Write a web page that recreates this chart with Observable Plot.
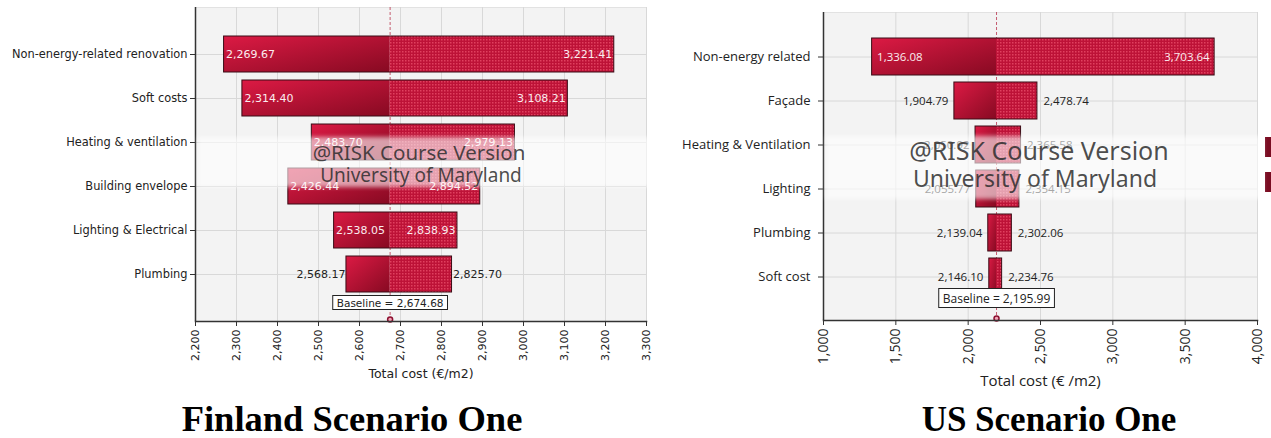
<!DOCTYPE html>
<html>
<head>
<meta charset="utf-8">
<script src="https://cdn.jsdelivr.net/npm/d3@7"></script>
<script src="https://cdn.jsdelivr.net/npm/@observablehq/plot@0.6"></script>
<style>
  body { margin: 0; background: #fff; }
  #page { position: relative; width: 1271px; height: 438px; overflow: hidden; }
  .panel { position: absolute; top: 0; }
  .panel svg { overflow: visible; }
  .title { position: absolute; font-family: "Liberation Serif", serif; font-weight: bold;
           line-height: 0.9; white-space: nowrap; transform: translateX(-50%); color: #000; }
  .band { position: absolute; background: rgba(255,255,255,0.6); filter: blur(2px); }
  .mark { position: absolute; font-family: "Noto Sans", sans-serif; color: rgba(45,45,45,0.85);
          white-space: nowrap; transform: translate(-50%, -50%); line-height: 1; }
  .swatch { position: absolute; background: #7a0c22; }
</style>
</head>
<body>
<div id="page"></div>
<script>
// Finland, scenario one: low / high total cost per factor (€/m2)
const finlandFactors = ["Non-energy-related renovation", "Soft costs", "Heating & ventilation",
                        "Building envelope", "Lighting & Electrical", "Plumbing"];
const finlandLow  = [2269.67, 2314.40, 2483.70, 2426.44, 2538.05, 2568.17];
const finlandHigh = [3221.41, 3108.21, 2979.13, 2894.52, 2838.93, 2825.70];
const finlandBaseline = 2674.68;
const finlandTicks = [2200, 2300, 2400, 2500, 2600, 2700, 2800, 2900, 3000, 3100, 3200, 3300];

// US, scenario one
const usFactors = ["Non-energy related", "Façade", "Heating & Ventilation", "Lighting", "Plumbing", "Soft cost"];
const usLow  = [1336.08, 1904.79, 2050.92, 2055.77, 2139.04, 2146.10];
const usHigh = [3703.64, 2478.74, 2365.58, 2354.15, 2302.06, 2234.76];
const usBaseline = 2195.99;
const usTicks = [1000, 1500, 2000, 2500, 3000, 3500, 4000];

const fmt = d3.format(",.2f");
const tickFmt = d3.format(",");
const page = document.getElementById("page");

function tornado(o) {
  const rows = o.factors.map((factor, i) => ({factor, low: o.low[i], high: o.high[i]}));
  const plotW = o.width - o.marginLeft - o.marginRight;
  const px = v => Math.abs(v) / (o.domain[1] - o.domain[0]) * plotW;
  // values go inside the bar only when both halves are wide enough
  const fits = d => Math.min(px(o.baseline - d.low), px(d.high - o.baseline)) > o.minInside;
  const inside = rows.filter(fits), outside = rows.filter(d => !fits(d));
  const id = o.id;

  const svg = Plot.plot({
    width: o.width, height: o.height,
    marginLeft: o.marginLeft, marginRight: o.marginRight,
    marginTop: o.marginTop, marginBottom: o.marginBottom,
    style: {fontFamily: o.font, fontSize: o.valueSize + "px", color: "#222", background: "transparent"},
    x: {domain: o.domain},
    y: {domain: o.factors, paddingInner: o.padIn, paddingOuter: (1 + o.padIn) / 2},
    marks: [
      Plot.frame({fill: "#f3f3f3", stroke: "#e2e2e2"}),
      Plot.gridX(o.ticks, {stroke: "#d8d8d8", strokeOpacity: 1}),
      Plot.gridY({stroke: "#d8d8d8", strokeOpacity: 1}),
      Plot.ruleX([o.baseline], {stroke: "#b8334d", strokeDasharray: "3,2", strokeWidth: 0.8}),
      Plot.barX(rows, {y: "factor", x1: "low", x2: () => o.baseline, fill: `url(#${id}-solid)`}),
      Plot.barX(rows, {y: "factor", x1: () => o.baseline, x2: "high", fill: `url(#${id}-hatch)`}),
      Plot.barX(rows, {y: "factor", x1: "low", x2: "high", fill: "none", stroke: "#3a0c16", strokeWidth: 1}),
      Plot.text(inside, {x: "low", y: "factor", text: d => fmt(d.low), textAnchor: "start", dx: o.inDx, fill: "#fbecef"}),
      Plot.text(inside, {x: "high", y: "factor", text: d => fmt(d.high), textAnchor: "end", dx: -o.inDx, fill: "#fbecef"}),
      Plot.text(outside, {x: "low", y: "factor", text: d => fmt(d.low), textAnchor: "end", dx: -o.outDx, fill: "#222"}),
      Plot.text(outside, {x: "high", y: "factor", text: d => fmt(d.high), textAnchor: "start", dx: o.outDx, fill: "#222"}),
      Plot.text([o.baseline], {x: d => d, frameAnchor: "bottom", dy: -o.baseDy, text: d => `Baseline = ${fmt(d)}`,
                               fontSize: o.baseSize, fill: "#222"}),
      Plot.dot([o.baseline], {x: d => d, frameAnchor: "bottom", dy: -2, r: 2.5, fill: "#f3a5b8", stroke: "#8c1030"}),
      Plot.ruleX([o.domain[0]], {stroke: "#333", strokeWidth: 1.5}),
      Plot.frame({anchor: "bottom", stroke: "#333", strokeWidth: 1.5}),
      Plot.axisY({tickSize: 5, tickPadding: o.yPad, fontSize: o.catSize, label: null, stroke: "#333"}),
      Plot.axisX({ticks: o.ticks, tickFormat: tickFmt, tickRotate: -90, tickSize: 5, tickPadding: 3,
                  fontSize: o.tickSize, label: null, stroke: "#333"}),
      Plot.text([o.axisLabel], {frameAnchor: "bottom", dy: o.labelDy, text: d => d, fontSize: o.labelSize, fill: "#222"})
    ]
  });

  // fills for the two halves of each bar
  const defs = d3.select(svg).insert("defs", ":first-child");
  const grad = defs.append("linearGradient").attr("id", id + "-solid")
    .attr("x1", 0).attr("y1", 0).attr("x2", 1).attr("y2", 1);
  grad.append("stop").attr("offset", "0%").attr("stop-color", "#dc1a44");
  grad.append("stop").attr("offset", "100%").attr("stop-color", "#870a22");
  const pat = defs.append("pattern").attr("id", id + "-hatch")
    .attr("patternUnits", "userSpaceOnUse").attr("width", 3).attr("height", 3);
  pat.append("rect").attr("width", 3).attr("height", 3).attr("fill", "#bd1237");
  pat.append("rect").attr("width", 1.5).attr("height", 1.5).attr("fill", "#e0405e");

  const holder = document.createElement("div");
  holder.className = "panel";
  holder.style.left = o.left + "px";
  holder.appendChild(svg);
  page.appendChild(holder);

  // white box behind the baseline label
  const sr = svg.getBoundingClientRect();
  svg.querySelectorAll("text").forEach(t => {
    if (!t.textContent.startsWith("Baseline")) return;
    const r = t.getBoundingClientRect();
    let g = t; while (g.parentNode !== svg) g = g.parentNode;
    const rect = document.createElementNS("http://www.w3.org/2000/svg", "rect");
    rect.setAttribute("x", r.left - sr.left - 4);
    rect.setAttribute("y", r.top - sr.top - 1);
    rect.setAttribute("width", r.width + 8);
    rect.setAttribute("height", r.height + 2);
    rect.setAttribute("fill", "#fff");
    rect.setAttribute("stroke", "#222");
    svg.insertBefore(rect, g);
  });
}

tornado({
  id: "fi", left: 0, width: 650, height: 400,
  marginLeft: 195, marginRight: 4, marginTop: 7, marginBottom: 79,
  factors: finlandFactors, low: finlandLow, high: finlandHigh, baseline: finlandBaseline,
  domain: [finlandTicks[0], finlandTicks[finlandTicks.length - 1]], ticks: finlandTicks,
  padIn: 0.19, minInside: 50, inDx: 2, outDx: 1,
  font: "DejaVu Sans", valueSize: 11, catSize: 11.4, tickSize: 11, labelSize: 12.5, baseSize: 10.5,
  yPad: 3, baseDy: 15, labelDy: 56, axisLabel: "Total cost (€/m2)"
});

tornado({
  id: "us", left: 640, width: 631, height: 400,
  marginLeft: 183, marginRight: 14, marginTop: 12, marginBottom: 80,
  factors: usFactors, low: usLow, high: usHigh, baseline: usBaseline,
  domain: [usTicks[0], usTicks[usTicks.length - 1]], ticks: usTicks,
  padIn: 0.17, minInside: 50, inDx: 5, outDx: 6,
  font: "Open Sans", valueSize: 11.5, catSize: 13, tickSize: 14, labelSize: 15, baseSize: 12,
  yPad: 8, baseDy: 18, labelDy: 65, axisLabel: "Total cost (€ /m2)"
});

// clipped legend swatches at the right edge
[[137, 20], [172, 20]].forEach(([top, h]) => {
  const s = document.createElement("div");
  s.className = "swatch";
  Object.assign(s.style, {left: "1265px", top: top + "px", width: "6px", height: h + "px"});
  page.appendChild(s);
});

// licence watermark band over both plot areas
function addDiv(cls, text, style) {
  const d = document.createElement("div");
  d.className = cls;
  if (text) d.textContent = text;
  Object.assign(d.style, style);
  page.appendChild(d);
}
addDiv("band", "", {left: "198px", top: "137px", width: "458px", height: "50px"});
addDiv("band", "", {left: "826px", top: "136px", width: "437px", height: "63px"});
addDiv("mark", "@RISK Course Version", {left: "419px", top: "152px", fontSize: "20.5px"});
addDiv("mark", "University of Maryland", {left: "421px", top: "175px", fontSize: "19px"});
addDiv("mark", "@RISK Course Version", {left: "1039px", top: "150px", fontSize: "25px"});
addDiv("mark", "University of Maryland", {left: "1035px", top: "178px", fontSize: "23px"});

// chart titles
addDiv("title", "Finland Scenario One", {left: "352px", top: "403px", fontSize: "36.5px"});
addDiv("title", "US Scenario One", {left: "1049px", top: "404px", fontSize: "35px"});
</script>
</body>
</html>
